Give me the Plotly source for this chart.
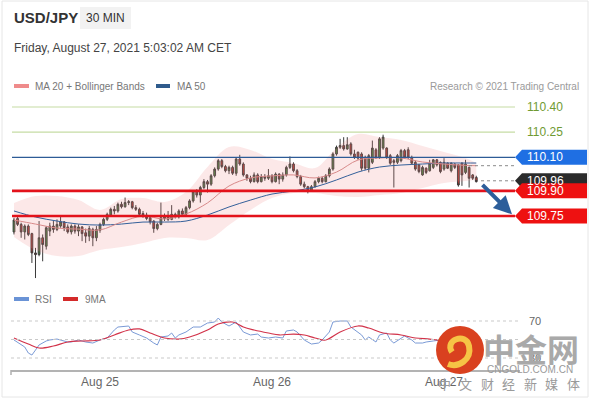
import plotly.graph_objects as go
import pandas as pd

# ---------------- data ----------------
start_time = "2021-08-24 12:00"          # first 30-min candle
opens = [
    109.655, 109.735, 109.70, 109.655, 109.69, 109.645, 109.53, 109.52, 109.62, 109.57,
    109.66, 109.69, 109.67, 109.69, 109.715, 109.685, 109.655, 109.69, 109.66, 109.685,
    109.65, 109.63, 109.67, 109.62, 109.665, 109.70, 109.73, 109.755, 109.79, 109.78,
    109.82, 109.805, 109.83, 109.835, 109.80, 109.79, 109.765, 109.755, 109.74, 109.72,
    109.675, 109.70, 109.735, 109.75, 109.73, 109.76, 109.745, 109.78, 109.76, 109.80,
    109.84, 109.895, 109.875, 109.92, 109.955, 109.94, 109.99, 110.03, 110.08, 110.045,
    110.02, 110.04, 110.005, 110.09, 110.06, 109.995, 109.975, 109.955, 109.995, 109.955,
    109.985, 109.975, 109.99, 109.955, 110.00, 109.97, 109.995, 110.04, 110.06, 110.02,
    109.985, 109.94, 109.925, 109.90, 109.925, 109.955, 109.975, 109.955, 109.99, 110.03,
    110.12, 110.16, 110.17, 110.15, 110.18, 110.12, 110.13, 110.12, 110.10, 110.035,
    110.07, 110.145, 110.10, 110.155, 110.155, 110.11, 110.08, 110.07, 110.08, 110.14,
    110.145, 110.10, 110.07, 110.055, 109.995, 110.035, 110.02, 110.04, 110.085, 110.07,
    110.03, 110.065, 110.02, 110.06, 110.055, 110.065, 110.01, 110.04, 109.995, 109.98]
highs = [
    109.74, 109.75, 109.71, 109.70, 109.70, 109.65, 109.56, 109.72, 109.64, 109.69,
    109.71, 109.72, 109.73, 109.75, 109.72, 109.70, 109.70, 109.70, 109.70, 109.69,
    109.675, 109.69, 109.68, 109.69, 109.71, 109.74, 109.77, 109.80, 109.81, 109.83,
    109.835, 109.86, 109.845, 109.84, 109.815, 109.80, 109.78, 109.77, 109.75, 109.725,
    109.71, 109.83, 109.765, 109.78, 109.815, 109.77, 109.79, 109.795, 109.81, 109.85,
    109.905, 109.91, 109.93, 109.97, 109.965, 110.00, 110.04, 110.09, 110.09, 110.055,
    110.05, 110.05, 110.10, 110.115, 110.07, 110.00, 109.99, 110.01, 110.005, 110.00,
    110.00, 110.03, 110.00, 110.01, 110.005, 110.01, 110.05, 110.105, 110.07, 110.03,
    109.995, 109.955, 109.93, 109.935, 109.965, 109.985, 109.985, 110.00, 110.04, 110.13,
    110.17, 110.21, 110.22, 110.22, 110.19, 110.145, 110.135, 110.13, 110.11, 110.12,
    110.20, 110.155, 110.22, 110.235, 110.16, 110.12, 110.09, 110.12, 110.15, 110.15,
    110.16, 110.11, 110.08, 110.06, 110.05, 110.04, 110.085, 110.09, 110.09, 110.075,
    110.095, 110.07, 110.07, 110.065, 110.06, 110.07, 110.085, 110.045, 110.00, 109.99]
lows = [
    109.64, 109.69, 109.62, 109.61, 109.63, 109.47, 109.38, 109.51, 109.48, 109.55,
    109.63, 109.65, 109.66, 109.68, 109.66, 109.645, 109.64, 109.645, 109.63, 109.60,
    109.59, 109.60, 109.57, 109.60, 109.65, 109.69, 109.72, 109.745, 109.76, 109.77,
    109.795, 109.80, 109.815, 109.79, 109.78, 109.75, 109.74, 109.725, 109.70, 109.65,
    109.665, 109.695, 109.72, 109.72, 109.725, 109.735, 109.735, 109.745, 109.75, 109.79,
    109.83, 109.86, 109.83, 109.91, 109.89, 109.93, 109.98, 110.02, 110.035, 110.01,
    110.00, 109.995, 109.99, 110.05, 109.985, 109.96, 109.945, 109.95, 109.945, 109.95,
    109.96, 109.965, 109.945, 109.95, 109.94, 109.955, 109.985, 110.03, 110.01, 109.975,
    109.93, 109.915, 109.885, 109.895, 109.92, 109.945, 109.945, 109.95, 109.98, 110.02,
    110.11, 110.15, 110.14, 110.145, 110.11, 110.09, 110.085, 110.02, 110.025, 110.01,
    110.06, 110.09, 110.09, 110.145, 110.09, 110.055, 109.92, 110.06, 110.07, 110.09,
    110.09, 110.055, 110.02, 110.005, 109.99, 110.00, 110.015, 110.03, 110.045, 110.005,
    110.02, 110.03, 110.01, 110.03, 109.925, 109.93, 110.00, 109.92, 109.965, 109.95]
closes = [
    109.726, 109.70, 109.655, 109.69, 109.64, 109.53, 109.52, 109.62, 109.58, 109.68,
    109.69, 109.67, 109.70, 109.715, 109.68, 109.655, 109.69, 109.66, 109.685, 109.645,
    109.63, 109.675, 109.62, 109.67, 109.70, 109.73, 109.76, 109.79, 109.78, 109.82,
    109.805, 109.83, 109.835, 109.80, 109.79, 109.76, 109.755, 109.735, 109.715, 109.675,
    109.70, 109.74, 109.75, 109.73, 109.76, 109.745, 109.78, 109.76, 109.80, 109.84,
    109.895, 109.875, 109.92, 109.955, 109.94, 109.99, 110.03, 110.08, 110.045, 110.02,
    110.04, 110.005, 110.09, 110.06, 109.995, 109.975, 109.955, 109.995, 109.955, 109.985,
    109.975, 109.99, 109.955, 110.00, 109.97, 109.995, 110.04, 110.06, 110.02, 109.985,
    109.94, 109.925, 109.90, 109.925, 109.955, 109.975, 109.955, 109.99, 110.03, 110.12,
    110.16, 110.17, 110.15, 110.175, 110.12, 110.10, 110.095, 110.035, 110.035, 110.11,
    110.155, 110.10, 110.21, 110.22, 110.10, 110.065, 110.07, 110.11, 110.14, 110.10,
    110.10, 110.065, 110.03, 110.015, 110.04, 110.01, 110.065, 110.085, 110.055, 110.015,
    110.07, 110.035, 110.065, 110.04, 109.935, 109.995, 110.06, 109.975, 109.975, 109.955]

# indicator samples (candle index -> value)
ind_idx = [0, 6, 12, 18, 24, 30, 36, 42, 48, 54, 60, 66, 72, 78, 84, 90, 96, 102, 108, 114, 120, 126, 129]
bb_upper = [109.828, 109.869, 109.869, 109.845, 109.786, 109.851, 109.857, 109.834, 109.893, 110.042,
            110.161, 110.144, 110.090, 110.066, 110.036, 110.156, 110.239, 110.221, 110.203, 110.167,
            110.132, 110.096, 110.066]
bb_lower = [109.625, 109.547, 109.511, 109.511, 109.547, 109.565, 109.589, 109.619, 109.619, 109.607,
            109.696, 109.786, 109.857, 109.887, 109.887, 109.869, 109.863, 109.875, 109.887, 109.917,
            109.947, 109.959, 109.965]
ma20 = [109.726, 109.702, 109.678, 109.672, 109.667, 109.714, 109.750, 109.732, 109.762, 109.828,
        109.929, 109.977, 109.989, 109.995, 109.977, 110.012, 110.084, 110.096, 110.096, 110.072,
        110.060, 110.052, 110.050]
ma50 = [109.780, 109.744, 109.720, 109.702, 109.696, 109.702, 109.714, 109.714, 109.720, 109.756,
        109.804, 109.845, 109.881, 109.899, 109.923, 109.965, 110.012, 110.042, 110.054, 110.060,
        110.066, 110.066, 110.066]

rsi_idx = [0, 2, 3, 4, 5, 6, 7, 9, 10, 12, 15, 16, 18, 20, 22, 24, 26, 28, 29, 32, 33, 35, 37, 39, 40,
           41, 43, 44, 45, 46, 48, 50, 52, 54, 56, 57, 58, 60, 62, 64, 66, 68, 69, 71, 73, 75, 76, 78,
           79, 81, 83, 85, 86, 88, 89, 91, 93, 94, 95, 97, 98, 99, 101, 102, 104, 105, 106, 108, 109,
           111, 112, 114, 115, 117, 120, 123, 126, 129]
rsi = [49.5, 44.1, 41.9, 35.4, 33.2, 38.6, 44.1, 48.4, 49.5, 50.5, 47.3, 47.3, 49.5, 47.3, 46.2, 49.5,
       51.6, 60.3, 63.5, 64.6, 58.1, 54.9, 51.6, 46.2, 44.1, 52.7, 53.8, 57.0, 51.6, 54.9, 58.1, 63.5,
       63.5, 67.8, 68.9, 73.2, 68.9, 64.6, 68.9, 58.1, 54.9, 55.9, 52.7, 51.6, 52.7, 51.6, 59.2, 60.3,
       58.1, 49.5, 45.1, 46.2, 49.5, 58.1, 68.9, 70.0, 70.0, 63.5, 60.3, 54.9, 49.5, 52.7, 47.3, 54.9,
       57.0, 49.5, 46.2, 51.6, 53.8, 49.5, 46.2, 46.2, 47.3, 48.4, 50.0, 47.0, 43.0, 42.0]
ma9_idx = [0, 4, 7, 11, 15, 19, 24, 28, 32, 35, 38, 42, 46, 49, 54, 57, 61, 64, 67, 71, 74, 78, 81, 84,
           87, 91, 96, 99, 103, 108, 112, 116, 118, 122, 126, 129]
ma9 = [51.6, 45.1, 40.8, 43.0, 47.3, 48.4, 49.5, 54.9, 60.3, 61.4, 57.0, 51.6, 50.5, 52.7, 60.3, 66.8,
       68.9, 63.5, 60.3, 57.0, 54.9, 55.9, 54.9, 51.6, 49.5, 58.1, 64.6, 62.4, 57.0, 54.9, 51.6, 50.5,
       49.5, 48.5, 47.0, 46.0]

green_levels = [110.40, 110.25]
blue_level = 110.10
red_levels = [109.90, 109.75]
last_price = 109.96
date_ticks = ["2021-08-25", "2021-08-26", "2021-08-27"]
date_labels = ["Aug 25", "Aug 26", "Aug 27"]
watermark_chars = ["中", "文", "财", "经", "新", "媒", "体"]

# ---------------- layout helpers ----------------
W, H = 590, 400
PL, PR, PT, PB = 11, 520, 95, 370          # plot area in pixels
def X(px):
    return (px - PL) / (PR - PL)
def Y(py):
    return (PB - py) / (PB - PT)

price_dom = [Y(290), 1.0]
price_rng = [109.3088, 110.4716]
rsi_dom = [0.0, Y(305)]
rsi_rng = [17.03, 87.3]
px_per_price = (290 - PT) / (price_rng[1] - price_rng[0])

t0 = pd.Timestamp(start_time)
def tt(i):
    return t0 + pd.Timedelta(minutes=30 * i)
times = [tt(i) for i in range(len(closes))]
x_range = [pd.Timestamp("2021-08-24 11:35"), pd.Timestamp("2021-08-27 10:36")]

FONT = "Liberation Sans, Arial, sans-serif"
fig = go.Figure()

# Bollinger band
fig.add_trace(go.Scatter(x=[tt(i) for i in ind_idx], y=bb_lower, mode="lines",
                         line=dict(width=0, shape="spline"), hoverinfo="skip",
                         xaxis="x", yaxis="y", showlegend=False))
fig.add_trace(go.Scatter(x=[tt(i) for i in ind_idx], y=bb_upper, mode="lines",
                         line=dict(width=0, shape="spline"), fill="tonexty",
                         fillcolor="rgba(240,140,140,0.2)", hoverinfo="skip",
                         xaxis="x", yaxis="y", showlegend=False))
fig.add_trace(go.Scatter(x=[tt(i) for i in ind_idx], y=ma50, mode="lines",
                         line=dict(width=1, color="#34609a", shape="spline"),
                         xaxis="x", yaxis="y", showlegend=False))
fig.add_trace(go.Scatter(x=[tt(i) for i in ind_idx], y=ma20, mode="lines",
                         line=dict(width=1, color="#d88a8a", shape="spline"),
                         xaxis="x", yaxis="y", showlegend=False))

fig.add_trace(go.Candlestick(
    x=times, open=opens, high=highs, low=lows, close=closes,
    increasing=dict(fillcolor="#3f8a3a", line=dict(color="#3a3a3a", width=1)),
    decreasing=dict(fillcolor="#c0352d", line=dict(color="#3a3a3a", width=1)),
    whiskerwidth=0, xaxis="x", yaxis="y", showlegend=False))

# RSI pane
fig.add_trace(go.Scatter(x=[tt(i) for i in rsi_idx], y=rsi, mode="lines",
                         line=dict(width=1, color="#7a9ad6"),
                         xaxis="x2", yaxis="y2", showlegend=False))
fig.add_trace(go.Scatter(x=[tt(i) for i in ma9_idx], y=ma9, mode="lines",
                         line=dict(width=1.2, color="#d2334a", shape="spline"),
                         xaxis="x2", yaxis="y2", showlegend=False))

shapes = []
ann = []

# frame
shapes.append(dict(type="rect", xref="paper", yref="paper", x0=X(2), x1=X(588), y0=Y(397), y1=Y(1),
                   line=dict(color="#e6e6e6", width=1), layer="below"))
# 30 MIN box
shapes.append(dict(type="rect", xref="paper", yref="paper", x0=X(80), x1=X(131), y0=Y(29), y1=Y(7),
                   fillcolor="#f2f2f2", line=dict(width=0), layer="below"))

# horizontal levels
for lv in green_levels:
    shapes.append(dict(type="line", xref="paper", yref="y", x0=X(12), x1=X(515), y0=lv, y1=lv,
                       line=dict(color="#c6dca4", width=1.2)))
    ann.append(dict(x=X(525), y=lv, xref="paper", yref="y", text=f"{lv:.2f}", showarrow=False,
                    xanchor="left", yanchor="middle", font=dict(size=12, color="#6f9a32", family=FONT)))
shapes.append(dict(type="line", xref="paper", yref="y", x0=X(12), x1=X(515), y0=blue_level, y1=blue_level,
                   line=dict(color="#2d5b96", width=1.2)))
for lv in red_levels:
    shapes.append(dict(type="line", xref="paper", yref="y", x0=X(12), x1=X(515), y0=lv, y1=lv,
                       line=dict(color="#e3121b", width=2.6)))

# dotted extensions
shapes.append(dict(type="line", xref="paper", yref="y", x0=X(469), x1=X(515), y0=ma20[-1], y1=ma20[-1],
                   line=dict(color="#8a8a8a", width=1, dash="dot")))
shapes.append(dict(type="line", xref="paper", yref="y", x0=X(481), x1=X(515), y0=last_price, y1=last_price,
                   line=dict(color="#8a8a8a", width=1, dash="dot")))

# price tags
def tag(level, color):
    h = 7.5 / px_per_price
    path = (f"M {X(515)},{level} L {X(522)},{level + h} L {X(587)},{level + h} "
            f"L {X(587)},{level - h} L {X(522)},{level - h} Z")
    shapes.append(dict(type="path", xref="paper", yref="y", path=path, fillcolor=color,
                       line=dict(width=0)))
    ann.append(dict(x=X(525), y=level, xref="paper", yref="y", text=f"{level:.2f}", showarrow=False,
                    xanchor="left", yanchor="middle", font=dict(size=12, color="white", family=FONT)))
tag(blue_level, "#1f6fe3")
tag(last_price, "#2b2b2b")
for lv in red_levels:
    tag(lv, "#ee1111")

# arrow
ann.append(dict(x=X(512), y=red_levels[1] + 0.01, xref="paper", yref="y", ax=-31, ay=-31,
                showarrow=True, arrowhead=2, arrowsize=0.9, arrowwidth=4, arrowcolor="#2d5e9a", text=""))

# RSI dotted levels
for lv in [70, 50, 30]:
    shapes.append(dict(type="line", xref="paper", yref="y2", x0=0, x1=X(520), y0=lv, y1=lv,
                       line=dict(color="#c9c9c9", width=1, dash="dot")))
for lv in [70, 30]:
    ann.append(dict(x=X(527), y=lv, xref="paper", yref="y2", text=str(lv), showarrow=False,
                    xanchor="left", yanchor="middle", font=dict(size=11, color="#666", family=FONT)))

# left tick
shapes.append(dict(type="line", xref="paper", yref="paper", x0=X(11), x1=X(11), y0=Y(370), y1=Y(375),
                   line=dict(color="#b0b0b0", width=1.5)))

# header texts
ann.append(dict(x=X(12), y=Y(18), xref="paper", yref="paper", text="<b>USD/JPY</b>", showarrow=False,
                xanchor="left", yanchor="middle", font=dict(size=15, color="#333", family=FONT)))
ann.append(dict(x=X(105.5), y=Y(18), xref="paper", yref="paper", text="30 MIN", showarrow=False,
                xanchor="center", yanchor="middle", font=dict(size=12, color="#333", family=FONT)))
ann.append(dict(x=X(12), y=Y(48), xref="paper", yref="paper",
                text="Friday, August 27, 2021 5:03:02 AM CET", showarrow=False,
                xanchor="left", yanchor="middle", font=dict(size=12, color="#444", family=FONT)))

# legends
def swatch(x0, x1, yc, color):
    shapes.append(dict(type="rect", xref="paper", yref="paper", x0=X(x0), x1=X(x1),
                       y0=Y(yc + 2), y1=Y(yc - 2), fillcolor=color, line=dict(width=0)))
def label(px, py, text, size=10, color="#777", anchor="left", family=FONT):
    ann.append(dict(x=X(px), y=Y(py), xref="paper", yref="paper", text=text, showarrow=False,
                    xanchor=anchor, yanchor="middle", font=dict(size=size, color=color, family=family)))
swatch(14, 29, 86, "#ef8b8b")
label(33, 86, "MA 20 + Bollinger Bands")
swatch(156, 170, 86, "#2f5b8c")
label(175, 86, "MA 50")
label(581, 86, "Research © 2021 Trading Central", color="#9a9a9a", anchor="right")
swatch(14, 29, 299, "#6a93d6")
label(33, 299, "RSI")
swatch(63, 78, 299, "#d42a2a")
label(83, 299, "9MA")

# watermark
CJK = "Noto Sans CJK SC"
shapes.append(dict(type="circle", xref="paper", yref="paper", x0=X(436), x1=X(484), y0=Y(374), y1=Y(326),
                   fillcolor="#d9411f", line=dict(width=0)))
shapes.append(dict(type="path", xref="paper", yref="paper",
                   path=(f"M {X(452)},{Y(352)} C {X(444)},{Y(340)} {X(466)},{Y(332)} {X(469)},{Y(346)} "
                         f"C {X(472)},{Y(360)} {X(458)},{Y(368)} {X(448)},{Y(364)}"),
                   line=dict(color="#f6c445", width=6)))
label(531, 348, "<b>中金网</b>", size=32, color="#a9a9a9", anchor="center", family=CJK)
label(530, 369, "CNGOLD.COM.CN", size=10, color="#9a9a9a", anchor="center")
for k, ch in enumerate(watermark_chars):
    label(444 + 21.5 * k, 383, ch, size=13, color="#9a9a9a", anchor="center", family=CJK)

fig.update_layout(
    width=W, height=H,
    margin=dict(l=PL, r=W - PR, t=PT, b=H - PB),
    paper_bgcolor="white", plot_bgcolor="white",
    showlegend=False,
    font=dict(family=FONT),
    xaxis=dict(domain=[0, 1], range=x_range, anchor="y", visible=False,
               rangeslider=dict(visible=False), fixedrange=True),
    xaxis2=dict(domain=[0, 1], range=x_range, anchor="y2", matches="x",
                showline=True, linecolor="#b3b3b3", linewidth=2, showgrid=False, zeroline=False,
                tickvals=[pd.Timestamp(d) for d in date_ticks], ticktext=date_labels,
                tickfont=dict(size=12, color="#666", family=FONT), ticks=""),
    yaxis=dict(domain=price_dom, range=price_rng, visible=False, fixedrange=True),
    yaxis2=dict(domain=rsi_dom, range=rsi_rng, visible=False, fixedrange=True),
    shapes=shapes, annotations=ann,
)

fig.write_html("out.html")
